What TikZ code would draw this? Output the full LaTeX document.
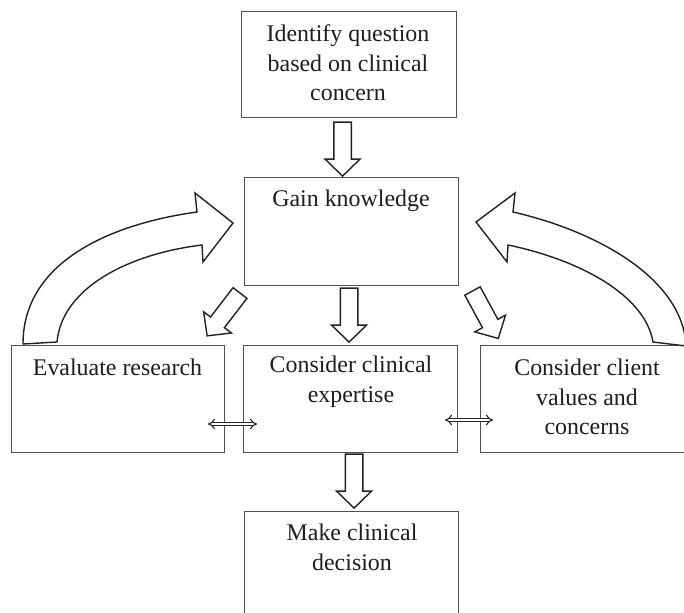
\documentclass[tikz,border=0pt]{standalone}
\usepackage{fontspec}
\setmainfont{Liberation Serif}
\usetikzlibrary{arrows.meta,calc}
\definecolor{boxline}{HTML}{505050}
\definecolor{arrline}{HTML}{222222}
\definecolor{txt}{HTML}{1E1E1E}
\tikzset{
  boxnode/.style={draw=boxline, line width=1.1pt, rectangle, inner sep=0pt, anchor=north west},
  lbl/.style={font=\fontsize{23.9}{29.5}\selectfont, text=txt, align=center, inner sep=0pt},
  arrowline/.style={draw=arrline, line width=1.4pt, line join=miter, fill=white},
  dbl/.style={draw=arrline, double=white, double distance=2.4pt, line width=1.1pt, {Implies[length=4pt]}-{Implies[length=4pt]}},
  barrow/.pic={\path[arrowline] (0,-8.75) -- (37,-8.75) -- (37,-17.5) -- (54,0) -- (37,17.5) -- (37,8.75) -- (0,8.75) -- cycle;}
}
\begin{document}
\begin{tikzpicture}[x=1pt,y=-1pt]
\clip (0,0) rectangle (684,612);
\fill[white] (0,0) rectangle (684,612);
% boxes
\node[boxnode, minimum width=215pt, minimum height=106pt] (q) at (241,11) {};
\node[boxnode, minimum width=214pt, minimum height=108pt] (gain) at (244,177) {};
\node[boxnode, minimum width=213pt, minimum height=107pt] (eval) at (11,345) {};
\node[boxnode, minimum width=214pt, minimum height=107pt] (expert) at (243,345) {};
\node[boxnode, minimum width=214pt, minimum height=107pt] (client) at (480,345) {};
\node[boxnode, minimum width=214pt, minimum height=112pt] (decide) at (244,511) {};
% texts
\node[lbl] (tq) at (348,63) {Identify question\\based on clinical\\concern};
\node[lbl] (tgain) at (351,201) {Gain knowledge};
\node[lbl] (teval) at (117.5,367) {Evaluate research};
\node[lbl] (texpert) at (351,381.5) {Consider clinical\\expertise};
\node[lbl] (tclient) at (587,397) {Consider client\\values and\\concerns};
\node[lbl] (tdecide) at (352,547.5) {Make clinical\\decision};
% straight block arrows
\pic[rotate=-90] at ($(q.south)+(-6.5,4)$) {barrow};
\pic[rotate=-90] at ($(gain.south)+(-2.5,2)$) {barrow};
\pic[rotate=-90] at ($(expert.south)+(3.5,1)$) {barrow};
\pic[rotate=-127.5] at (240,293) {barrow};
\pic[rotate=-61.5] at (472.5,291) {barrow};
% curved block arrows
\path[arrowline] (23,344) .. controls (23,262) and (110,224) .. (197,212)
  -- (195,193) -- (233,223) -- (203,262) -- (202,245)
  .. controls (128,254) and (62,288) .. (57,342) -- cycle;
\path[arrowline] (686,346) .. controls (683,280) and (600,232) .. (513,212)
  -- (515,193) -- (476,222) -- (507,262) -- (508,245)
  .. controls (580,260) and (645,295) .. (653,342) -- cycle;
% double arrows
\coordinate (la) at (208,424);
\coordinate (lb) at (257,424);
\coordinate (ra) at (445,420);
\coordinate (rb) at (493,420);
\draw[dbl] (la) -- (lb);
\draw[dbl] (ra) -- (rb);
\end{tikzpicture}
\end{document}
